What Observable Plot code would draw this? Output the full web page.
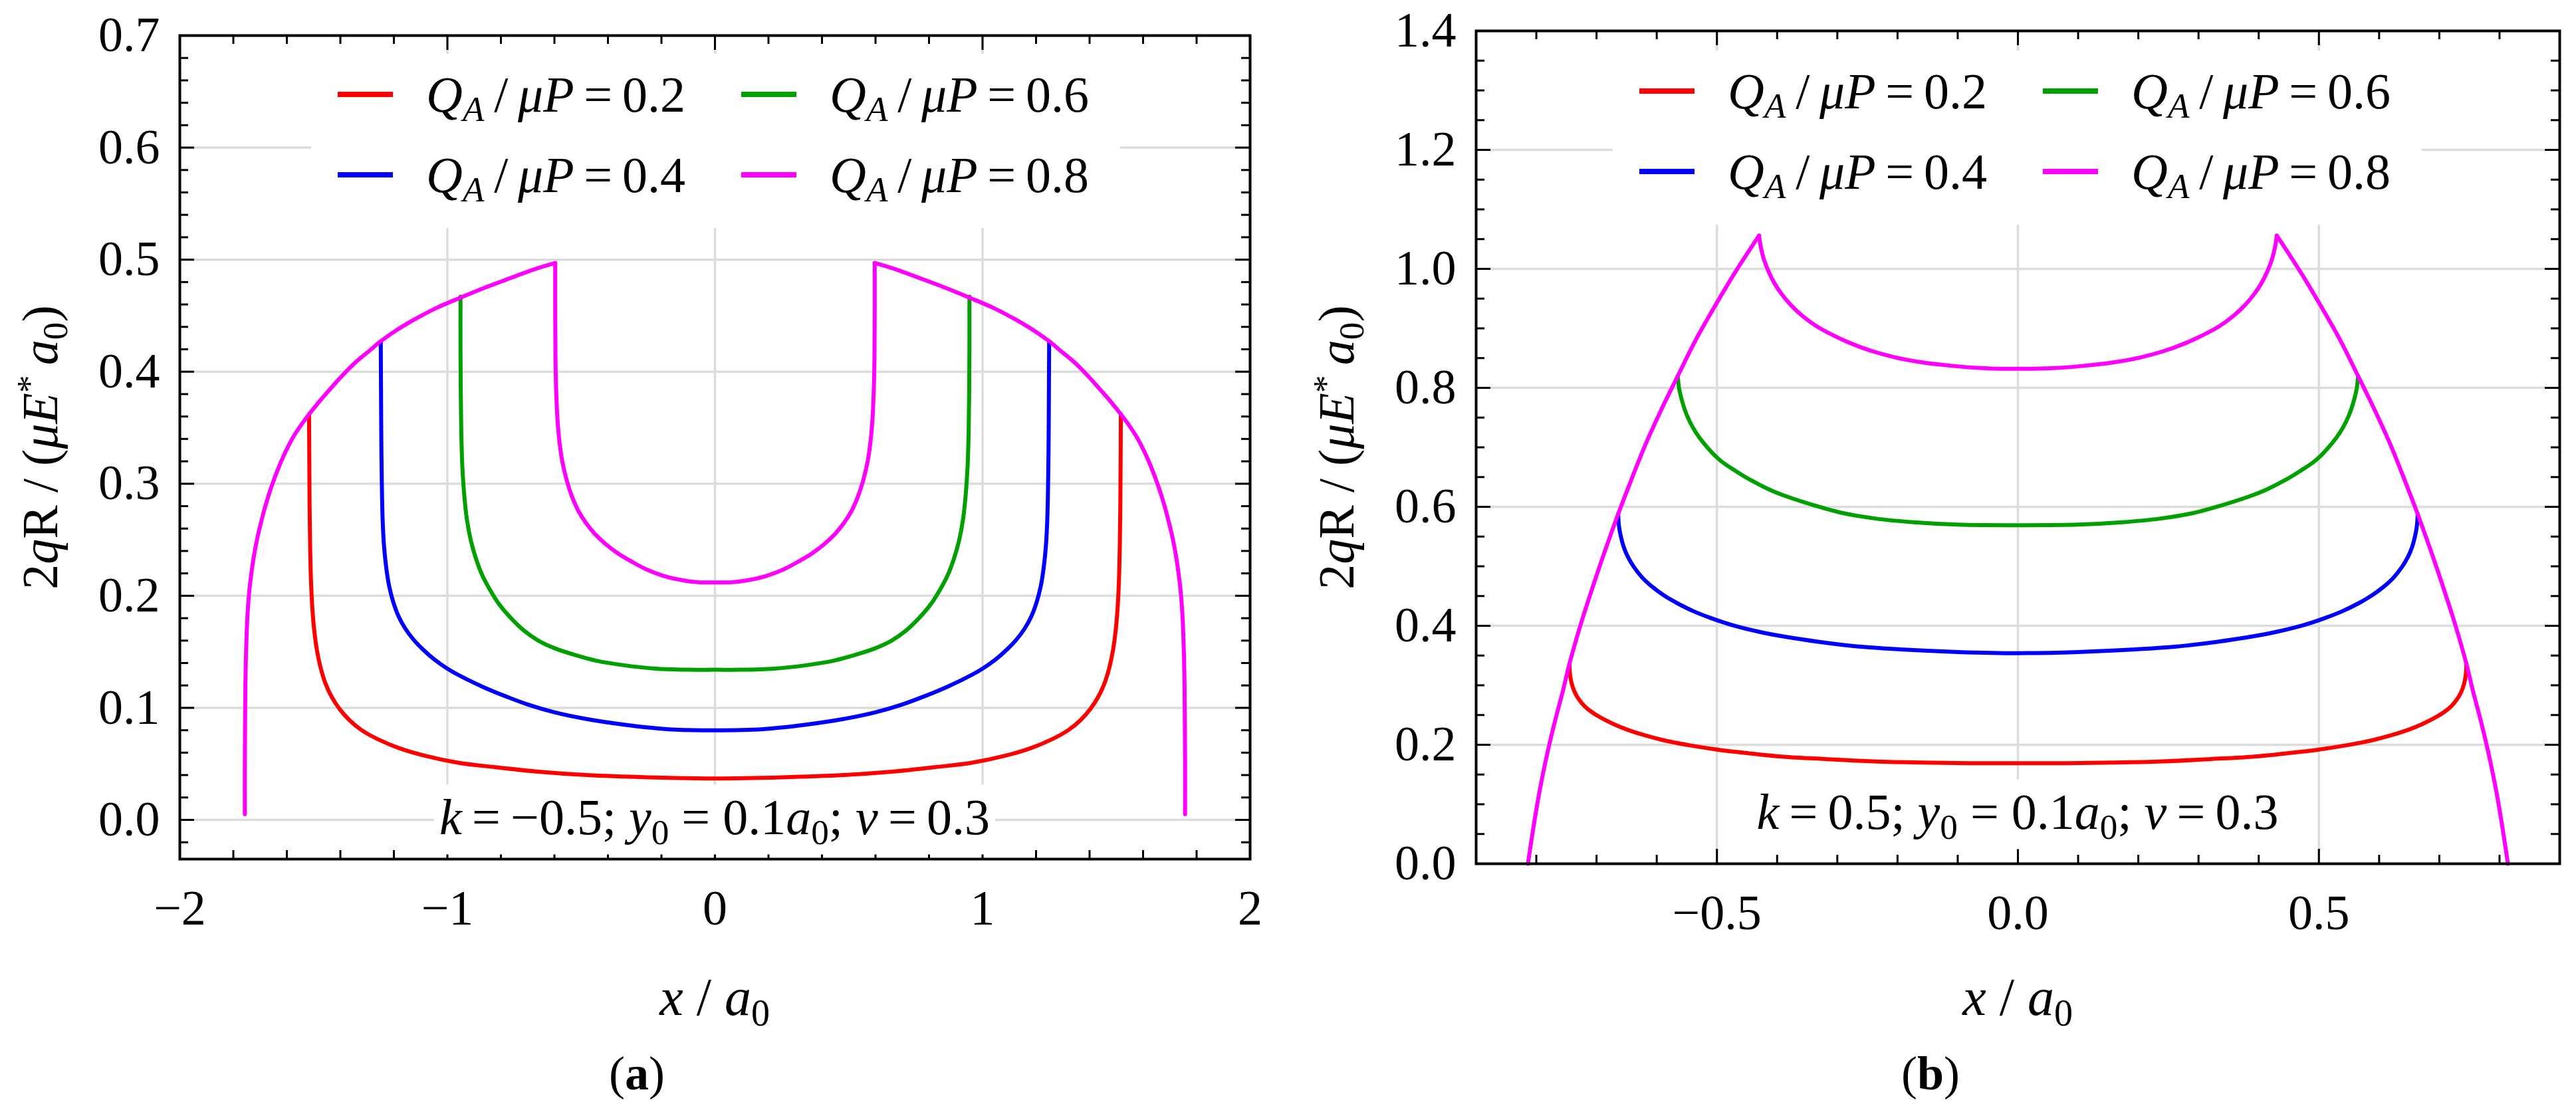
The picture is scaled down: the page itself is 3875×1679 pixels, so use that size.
<!DOCTYPE html>
<html>
<head>
<meta charset="utf-8">
<script src="https://cdn.jsdelivr.net/npm/d3@7"></script>
<script src="https://cdn.jsdelivr.net/npm/@observablehq/plot@0.6"></script>
<style>
  html, body { margin: 0; padding: 0; background: #fff; }
  #figure {
    position: relative; width: 3875px; height: 1679px; overflow: hidden;
    font-family: "Liberation Serif", "Times New Roman", serif; color: #000;
  }
  .panel { position: absolute; top: 0; height: 1679px; }
  .panel svg { position: absolute; left: 0; top: 0; }
  .legend {
    position: absolute; background: #fff; box-sizing: border-box;
    display: grid; grid-template-columns: 607px 607px; grid-template-rows: 121px 121px;
    grid-auto-flow: column; align-items: center; padding-left: 40px;
    font-size: 76px; line-height: 1;
  }
  .legend .item { display: flex; align-items: center; white-space: nowrap; }
  .legend .swatch { width: 83px; height: 8px; margin-right: 50px; flex: none; }
  .legend .lab { display: flex; justify-content: space-between; align-items: baseline; width: 390px; }
  .note {
    position: absolute; background: #fff; white-space: nowrap;
    font-size: 76px; line-height: 84px; padding: 6px 8px;
    transform: translate(-50%, -50%);
  }
  .xlabel, .caption {
    position: absolute; white-space: nowrap; line-height: 1;
    transform: translate(-50%, -50%);
  }
  .xlabel { font-size: 80px; }
  .caption { font-size: 72px; }
  .ylabel {
    position: absolute; white-space: nowrap; line-height: 1; font-size: 76px;
    transform: translate(-50%, -50%) rotate(-90deg);
  }
  sub { font-size: 70%; vertical-align: baseline; position: relative; top: 0.28em; }
  sup { font-size: 70%; vertical-align: baseline; position: relative; top: -0.45em; }
</style>
</head>
<body>
<div id="figure"></div>
<script>
// Q_A / μP values and their colours
const ratios = ["0.2", "0.4", "0.6", "0.8"];
const colors = ["#ff0000", "#0000ff", "#00a000", "#ff00ff"];

// ---- panel (a): k = -0.5 ----
const aXTicks = [-2, -1, 0, 1, 2];
const aYTicks = [0.0, 0.1, 0.2, 0.3, 0.4, 0.5, 0.6, 0.7];

// outer edge shared by all curves (drawn with the 0.8 curve, on top)
const aEdgeLeft = [
  [-1.757, 0.005], [-1.757, 0.050], [-1.756, 0.090], [-1.755, 0.120], [-1.753, 0.145],
  [-1.750, 0.168], [-1.746, 0.187], [-1.740, 0.205], [-1.732, 0.221], [-1.722, 0.237],
  [-1.710, 0.252], [-1.695, 0.267], [-1.678, 0.282], [-1.658, 0.297], [-1.635, 0.312],
  [-1.608, 0.327], [-1.578, 0.341], [-1.548, 0.352], [-1.517, 0.362], [-1.480, 0.373],
  [-1.440, 0.384], [-1.395, 0.396], [-1.345, 0.408], [-1.290, 0.419], [-1.250, 0.427],
  [-1.190, 0.437], [-1.120, 0.447], [-1.040, 0.457], [-0.952, 0.466], [-0.860, 0.475],
  [-0.760, 0.484], [-0.680, 0.491], [-0.597, 0.497]
];
const aEdgeRight = [
  [0.597, 0.497], [0.680, 0.491], [0.760, 0.484], [0.860, 0.475], [0.952, 0.466],
  [1.040, 0.457], [1.120, 0.447], [1.190, 0.437], [1.250, 0.427], [1.290, 0.419],
  [1.345, 0.408], [1.395, 0.396], [1.440, 0.384], [1.480, 0.373], [1.517, 0.362],
  [1.548, 0.352], [1.578, 0.341], [1.608, 0.327], [1.635, 0.312], [1.658, 0.297],
  [1.678, 0.282], [1.695, 0.267], [1.710, 0.252], [1.722, 0.237], [1.732, 0.221],
  [1.740, 0.205], [1.746, 0.187], [1.750, 0.168], [1.753, 0.145], [1.755, 0.120],
  [1.756, 0.090], [1.757, 0.050], [1.757, 0.005]
];
const aRed = [
  [-1.517, 0.362], [-1.516, 0.320], [-1.515, 0.280], [-1.513, 0.245], [-1.510, 0.215],
  [-1.505, 0.190], [-1.498, 0.170], [-1.488, 0.152], [-1.474, 0.136], [-1.456, 0.122],
  [-1.433, 0.110], [-1.403, 0.099], [-1.366, 0.089], [-1.320, 0.080], [-1.260, 0.072],
  [-1.180, 0.064], [-1.080, 0.057], [-0.960, 0.051], [-0.820, 0.047], [-0.660, 0.043],
  [-0.480, 0.040], [-0.250, 0.038], [0, 0.037],
  [0.250, 0.038], [0.480, 0.040], [0.660, 0.043], [0.820, 0.047], [0.960, 0.051],
  [1.080, 0.057], [1.180, 0.064], [1.260, 0.072], [1.320, 0.080], [1.366, 0.089],
  [1.403, 0.099], [1.433, 0.110], [1.456, 0.122], [1.474, 0.136], [1.488, 0.152],
  [1.498, 0.170], [1.505, 0.190], [1.510, 0.215], [1.513, 0.245], [1.515, 0.280],
  [1.516, 0.320], [1.517, 0.362]
];
const aBlue = [
  [-1.249, 0.427], [-1.248, 0.380], [-1.247, 0.340], [-1.245, 0.300], [-1.242, 0.268],
  [-1.237, 0.245], [-1.229, 0.226], [-1.218, 0.209], [-1.203, 0.195], [-1.183, 0.182],
  [-1.158, 0.171], [-1.127, 0.161], [-1.091, 0.152], [-1.048, 0.143], [-1.000, 0.135],
  [-0.940, 0.127], [-0.870, 0.119], [-0.790, 0.111], [-0.700, 0.103], [-0.600, 0.096],
  [-0.480, 0.090], [-0.340, 0.085], [-0.180, 0.081], [0, 0.080],
  [0.180, 0.081], [0.340, 0.085], [0.480, 0.090], [0.600, 0.096], [0.700, 0.103],
  [0.790, 0.111], [0.870, 0.119], [0.940, 0.127], [1.000, 0.135], [1.048, 0.143],
  [1.091, 0.152], [1.127, 0.161], [1.158, 0.171], [1.183, 0.182], [1.203, 0.195],
  [1.218, 0.209], [1.229, 0.226], [1.237, 0.245], [1.242, 0.268], [1.245, 0.300],
  [1.247, 0.340], [1.248, 0.380], [1.249, 0.427]
];
const aGreen = [
  [-0.951, 0.467], [-0.951, 0.420], [-0.950, 0.380], [-0.948, 0.345], [-0.944, 0.315],
  [-0.937, 0.290], [-0.927, 0.268], [-0.912, 0.249], [-0.893, 0.233], [-0.869, 0.218],
  [-0.840, 0.205], [-0.805, 0.192], [-0.762, 0.180], [-0.714, 0.169], [-0.660, 0.160],
  [-0.597, 0.153], [-0.520, 0.147], [-0.442, 0.142], [-0.340, 0.138], [-0.220, 0.135],
  [-0.100, 0.134], [0, 0.134],
  [0.100, 0.134], [0.220, 0.135], [0.340, 0.138], [0.442, 0.142], [0.520, 0.147],
  [0.597, 0.153], [0.660, 0.160], [0.714, 0.169], [0.762, 0.180], [0.805, 0.192],
  [0.840, 0.205], [0.869, 0.218], [0.893, 0.233], [0.912, 0.249], [0.927, 0.268],
  [0.937, 0.290], [0.944, 0.315], [0.948, 0.345], [0.950, 0.380], [0.951, 0.420],
  [0.951, 0.467]
];
const aMagenta = [
  [-0.597, 0.497], [-0.597, 0.450], [-0.596, 0.410], [-0.593, 0.380], [-0.588, 0.355],
  [-0.580, 0.335], [-0.569, 0.318], [-0.554, 0.303], [-0.535, 0.289], [-0.511, 0.276],
  [-0.482, 0.265], [-0.448, 0.255], [-0.408, 0.246], [-0.364, 0.238], [-0.315, 0.231],
  [-0.260, 0.224], [-0.195, 0.218], [-0.125, 0.214], [-0.060, 0.212], [0, 0.212],
  [0.060, 0.212], [0.125, 0.214], [0.195, 0.218], [0.260, 0.224], [0.315, 0.231],
  [0.364, 0.238], [0.408, 0.246], [0.448, 0.255], [0.482, 0.265], [0.511, 0.276],
  [0.535, 0.289], [0.554, 0.303], [0.569, 0.318], [0.580, 0.335], [0.588, 0.355],
  [0.593, 0.380], [0.596, 0.410], [0.597, 0.450], [0.597, 0.497]
];

// ---- panel (b): k = 0.5 ----
const bXTicks = [-0.5, 0.0, 0.5];
const bYTicks = [0.0, 0.2, 0.4, 0.6, 0.8, 1.0, 1.2, 1.4];

const bEdgeLeft = [
  [-0.814, 0.000], [-0.805, 0.060], [-0.795, 0.120], [-0.783, 0.180], [-0.769, 0.240],
  [-0.756, 0.290], [-0.745, 0.336], [-0.727, 0.400], [-0.708, 0.460], [-0.688, 0.520],
  [-0.664, 0.588], [-0.642, 0.646], [-0.619, 0.704], [-0.593, 0.762], [-0.565, 0.820],
  [-0.536, 0.879], [-0.503, 0.938], [-0.468, 0.997], [-0.430, 1.056]
];
const bEdgeRight = [
  [0.430, 1.056], [0.468, 0.997], [0.503, 0.938], [0.536, 0.879], [0.565, 0.820],
  [0.593, 0.762], [0.619, 0.704], [0.642, 0.646], [0.664, 0.588], [0.688, 0.520],
  [0.708, 0.460], [0.727, 0.400], [0.745, 0.336], [0.756, 0.290], [0.769, 0.240],
  [0.783, 0.180], [0.795, 0.120], [0.805, 0.060], [0.814, 0.000]
];
const bRed = [
  [-0.745, 0.336], [-0.744, 0.318], [-0.741, 0.302], [-0.736, 0.288], [-0.729, 0.276],
  [-0.720, 0.265], [-0.708, 0.255], [-0.692, 0.245], [-0.672, 0.235], [-0.648, 0.225],
  [-0.620, 0.216], [-0.586, 0.207], [-0.545, 0.199], [-0.500, 0.192], [-0.450, 0.186],
  [-0.390, 0.180], [-0.320, 0.176], [-0.240, 0.172], [-0.160, 0.170], [-0.080, 0.169],
  [0, 0.169],
  [0.080, 0.169], [0.160, 0.170], [0.240, 0.172], [0.320, 0.176], [0.390, 0.180],
  [0.450, 0.186], [0.500, 0.192], [0.545, 0.199], [0.586, 0.207], [0.620, 0.216],
  [0.648, 0.225], [0.672, 0.235], [0.692, 0.245], [0.708, 0.255], [0.720, 0.265],
  [0.729, 0.276], [0.736, 0.288], [0.741, 0.302], [0.744, 0.318], [0.745, 0.336]
];
const bBlue = [
  [-0.664, 0.588], [-0.663, 0.570], [-0.660, 0.552], [-0.655, 0.533], [-0.648, 0.516],
  [-0.638, 0.499], [-0.624, 0.481], [-0.608, 0.466], [-0.588, 0.451], [-0.566, 0.438],
  [-0.540, 0.425], [-0.510, 0.413], [-0.474, 0.401], [-0.430, 0.390], [-0.383, 0.381],
  [-0.330, 0.373], [-0.263, 0.365], [-0.190, 0.360], [-0.100, 0.356], [0, 0.354],
  [0.100, 0.356], [0.190, 0.360], [0.263, 0.365], [0.330, 0.373], [0.383, 0.381],
  [0.430, 0.390], [0.474, 0.401], [0.510, 0.413], [0.540, 0.425], [0.566, 0.438],
  [0.588, 0.451], [0.608, 0.466], [0.624, 0.481], [0.638, 0.499], [0.648, 0.516],
  [0.655, 0.533], [0.660, 0.552], [0.663, 0.570], [0.664, 0.588]
];
const bGreen = [
  [-0.565, 0.820], [-0.563, 0.800], [-0.559, 0.782], [-0.553, 0.762], [-0.545, 0.743],
  [-0.535, 0.725], [-0.522, 0.707], [-0.508, 0.691], [-0.492, 0.676], [-0.470, 0.661],
  [-0.444, 0.645], [-0.415, 0.630], [-0.383, 0.617], [-0.340, 0.603], [-0.293, 0.590],
  [-0.235, 0.580], [-0.173, 0.574], [-0.100, 0.570], [0, 0.569],
  [0.100, 0.570], [0.173, 0.574], [0.235, 0.580], [0.293, 0.590], [0.340, 0.603],
  [0.383, 0.617], [0.415, 0.630], [0.444, 0.645], [0.470, 0.661], [0.492, 0.676],
  [0.508, 0.691], [0.522, 0.707], [0.535, 0.725], [0.545, 0.743], [0.553, 0.762],
  [0.559, 0.782], [0.563, 0.800], [0.565, 0.820]
];
const bMagenta = [
  [-0.430, 1.056], [-0.427, 1.036], [-0.422, 1.016], [-0.414, 0.995], [-0.404, 0.975],
  [-0.392, 0.957], [-0.377, 0.939], [-0.358, 0.921], [-0.335, 0.904], [-0.308, 0.889],
  [-0.278, 0.875], [-0.243, 0.862], [-0.203, 0.851], [-0.160, 0.843], [-0.110, 0.837],
  [-0.055, 0.833], [0, 0.832],
  [0.055, 0.833], [0.110, 0.837], [0.160, 0.843], [0.203, 0.851], [0.243, 0.862],
  [0.278, 0.875], [0.308, 0.889], [0.335, 0.904], [0.358, 0.921], [0.377, 0.939],
  [0.392, 0.957], [0.404, 0.975], [0.414, 0.995], [0.422, 1.016], [0.427, 1.036],
  [0.430, 1.056]
];

const FONT = "'Liberation Serif', 'Times New Roman', serif";
const H = 1679;

function toRows(segments) {
  return segments.flatMap(([ratio, pts], seg) =>
    pts.map(([x, y]) => ({ratio, seg, x, y})));
}

function legendHtml() {
  return ratios.map((r, i) =>
    `<div class="item"><span class="swatch" style="background:${colors[i]}"></span>` +
    `<span class="lab"><span><i>Q</i><sub><i>A</i></sub></span><span>/</span>` +
    `<span><i>μP</i></span><span>=</span><span>${r}</span></span></div>`).join("");
}

function drawPanel(cfg) {
  const {left, width, margin} = cfg;
  const innerW = width - margin.left - margin.right;
  const innerH = H - margin.top - margin.bottom;
  const tick = {stroke: "black", strokeWidth: 3};
  const grid = {stroke: "#dcdcdc", strokeOpacity: 1, strokeWidth: 3.5};

  const chart = Plot.plot({
    width, height: H,
    marginTop: margin.top, marginRight: margin.right,
    marginBottom: margin.bottom, marginLeft: margin.left,
    x: {domain: cfg.xDomain},
    y: {domain: cfg.yDomain},
    color: {domain: ratios, range: colors},
    style: {fontFamily: FONT, fontSize: "74px", color: "black", background: "transparent", overflow: "visible"},
    marks: [
      Plot.gridX(cfg.xTicks, grid),
      Plot.gridY(cfg.yTicks, grid),
      Plot.line(toRows(cfg.segments), {
        x: "x", y: "y", z: "seg", stroke: "ratio",
        strokeWidth: 6, curve: "catmull-rom"
      }),
      // inward ticks on all four sides
      Plot.ruleX(cfg.xTicks, {x: d => d, insetTop: innerH - 22, ...tick}),
      Plot.ruleX(cfg.xTicks, {x: d => d, insetBottom: innerH - 22, ...tick}),
      Plot.ruleX(cfg.xMinor, {x: d => d, insetTop: innerH - 13, ...tick}),
      Plot.ruleX(cfg.xMinor, {x: d => d, insetBottom: innerH - 13, ...tick}),
      Plot.ruleY(cfg.yTicks, {y: d => d, insetRight: innerW - 22, ...tick}),
      Plot.ruleY(cfg.yTicks, {y: d => d, insetLeft: innerW - 22, ...tick}),
      Plot.ruleY(cfg.yMinor, {y: d => d, insetRight: innerW - 13, ...tick}),
      Plot.ruleY(cfg.yMinor, {y: d => d, insetLeft: innerW - 13, ...tick}),
      Plot.frame({stroke: "black", strokeWidth: 4}),
      Plot.axisX(cfg.xTicks, {tickSize: 0, tickPadding: 46, tickFormat: cfg.xFormat, label: null}),
      Plot.axisY(cfg.yTicks, {tickSize: 0, tickPadding: 30, tickFormat: d3.format(".1f"), label: null})
    ]
  });

  const panel = document.createElement("div");
  panel.className = "panel";
  panel.style.left = left + "px";
  panel.style.width = width + "px";
  panel.appendChild(chart);
  document.getElementById("figure").appendChild(panel);

  const sx = chart.scale("x"), sy = chart.scale("y");
  const x0 = sx.apply(0);

  const legend = document.createElement("div");
  legend.className = "legend";
  Object.assign(legend.style, {
    left: cfg.legend.left + "px", top: cfg.legend.top + "px",
    width: "1217px", height: "262px"
  });
  legend.innerHTML = legendHtml();
  panel.appendChild(legend);

  const note = document.createElement("div");
  note.className = "note";
  note.style.left = x0 + "px";
  note.style.top = sy.apply(cfg.noteY) + "px";
  note.innerHTML = cfg.note;
  panel.appendChild(note);

  const xl = document.createElement("div");
  xl.className = "xlabel";
  xl.style.left = x0 + "px";
  xl.style.top = "1500px";
  xl.innerHTML = "<i>x</i> / <i>a</i><sub>0</sub>";
  panel.appendChild(xl);

  const yl = document.createElement("div");
  yl.className = "ylabel";
  yl.style.left = cfg.yLabelX + "px";
  yl.style.top = (margin.top + innerH / 2) + "px";
  yl.innerHTML = "2<i>q</i>R / (<i>μE</i><sup>*</sup>&#8201;<i>a</i><sub>0</sub>)";
  panel.appendChild(yl);

  const cap = document.createElement("div");
  cap.className = "caption";
  cap.style.left = cfg.captionX + "px";
  cap.style.top = "1615px";
  cap.innerHTML = cfg.caption;
  panel.appendChild(cap);
}

// minor tick positions (every 0.2 / 0.02 in a, every 0.1 / 0.05 in b)
const aXMinor = [-1.8, -1.6, -1.4, -1.2, -0.8, -0.6, -0.4, -0.2, 0.2, 0.4, 0.6, 0.8, 1.2, 1.4, 1.6, 1.8];
const aYMinor = d3.range(-1, 36).filter(i => i % 5 !== 0).map(i => i / 50);
const bXMinor = [-0.8, -0.7, -0.6, -0.4, -0.3, -0.2, -0.1, 0.1, 0.2, 0.3, 0.4, 0.6, 0.7, 0.8];
const bYMinor = d3.range(1, 28).filter(i => i % 4 !== 0).map(i => i / 20);

drawPanel({
  left: 0, width: 1930,
  margin: {top: 53, right: 50, bottom: 387, left: 270},
  xDomain: [-2, 2], yDomain: [-0.035, 0.7],
  xTicks: aXTicks, yTicks: aYTicks, xMinor: aXMinor, yMinor: aYMinor,
  xFormat: d3.format("d"),
  segments: [
    ["0.2", aRed], ["0.4", aBlue], ["0.6", aGreen],
    ["0.8", aEdgeLeft], ["0.8", aMagenta], ["0.8", aEdgeRight]
  ],
  legend: {left: 468, top: 81},
  noteY: 0.0,
  note: "<i>k</i>&#8201;=&#8201;−0.5; <i>y</i><sub>0</sub> = 0.1<i>a</i><sub>0</sub>; <i>ν</i>&#8201;=&#8201;0.3",
  yLabelX: 60, captionX: 958,
  caption: "(<b>a</b>)"
});

drawPanel({
  left: 1940, width: 1935,
  margin: {top: 46, right: 25, bottom: 380, left: 280},
  xDomain: [-0.9, 0.9], yDomain: [0, 1.4],
  xTicks: bXTicks, yTicks: bYTicks, xMinor: bXMinor, yMinor: bYMinor,
  xFormat: d3.format(".1f"),
  segments: [
    ["0.2", bRed], ["0.4", bBlue], ["0.6", bGreen],
    ["0.8", bEdgeLeft], ["0.8", bMagenta], ["0.8", bEdgeRight]
  ],
  legend: {left: 486, top: 76},
  noteY: 0.083,
  note: "<i>k</i>&#8201;=&#8201;0.5; <i>y</i><sub>0</sub> = 0.1<i>a</i><sub>0</sub>; <i>ν</i>&#8201;=&#8201;0.3",
  yLabelX: 70, captionX: 964,
  caption: "(<b>b</b>)"
});
</script>
</body>
</html>
